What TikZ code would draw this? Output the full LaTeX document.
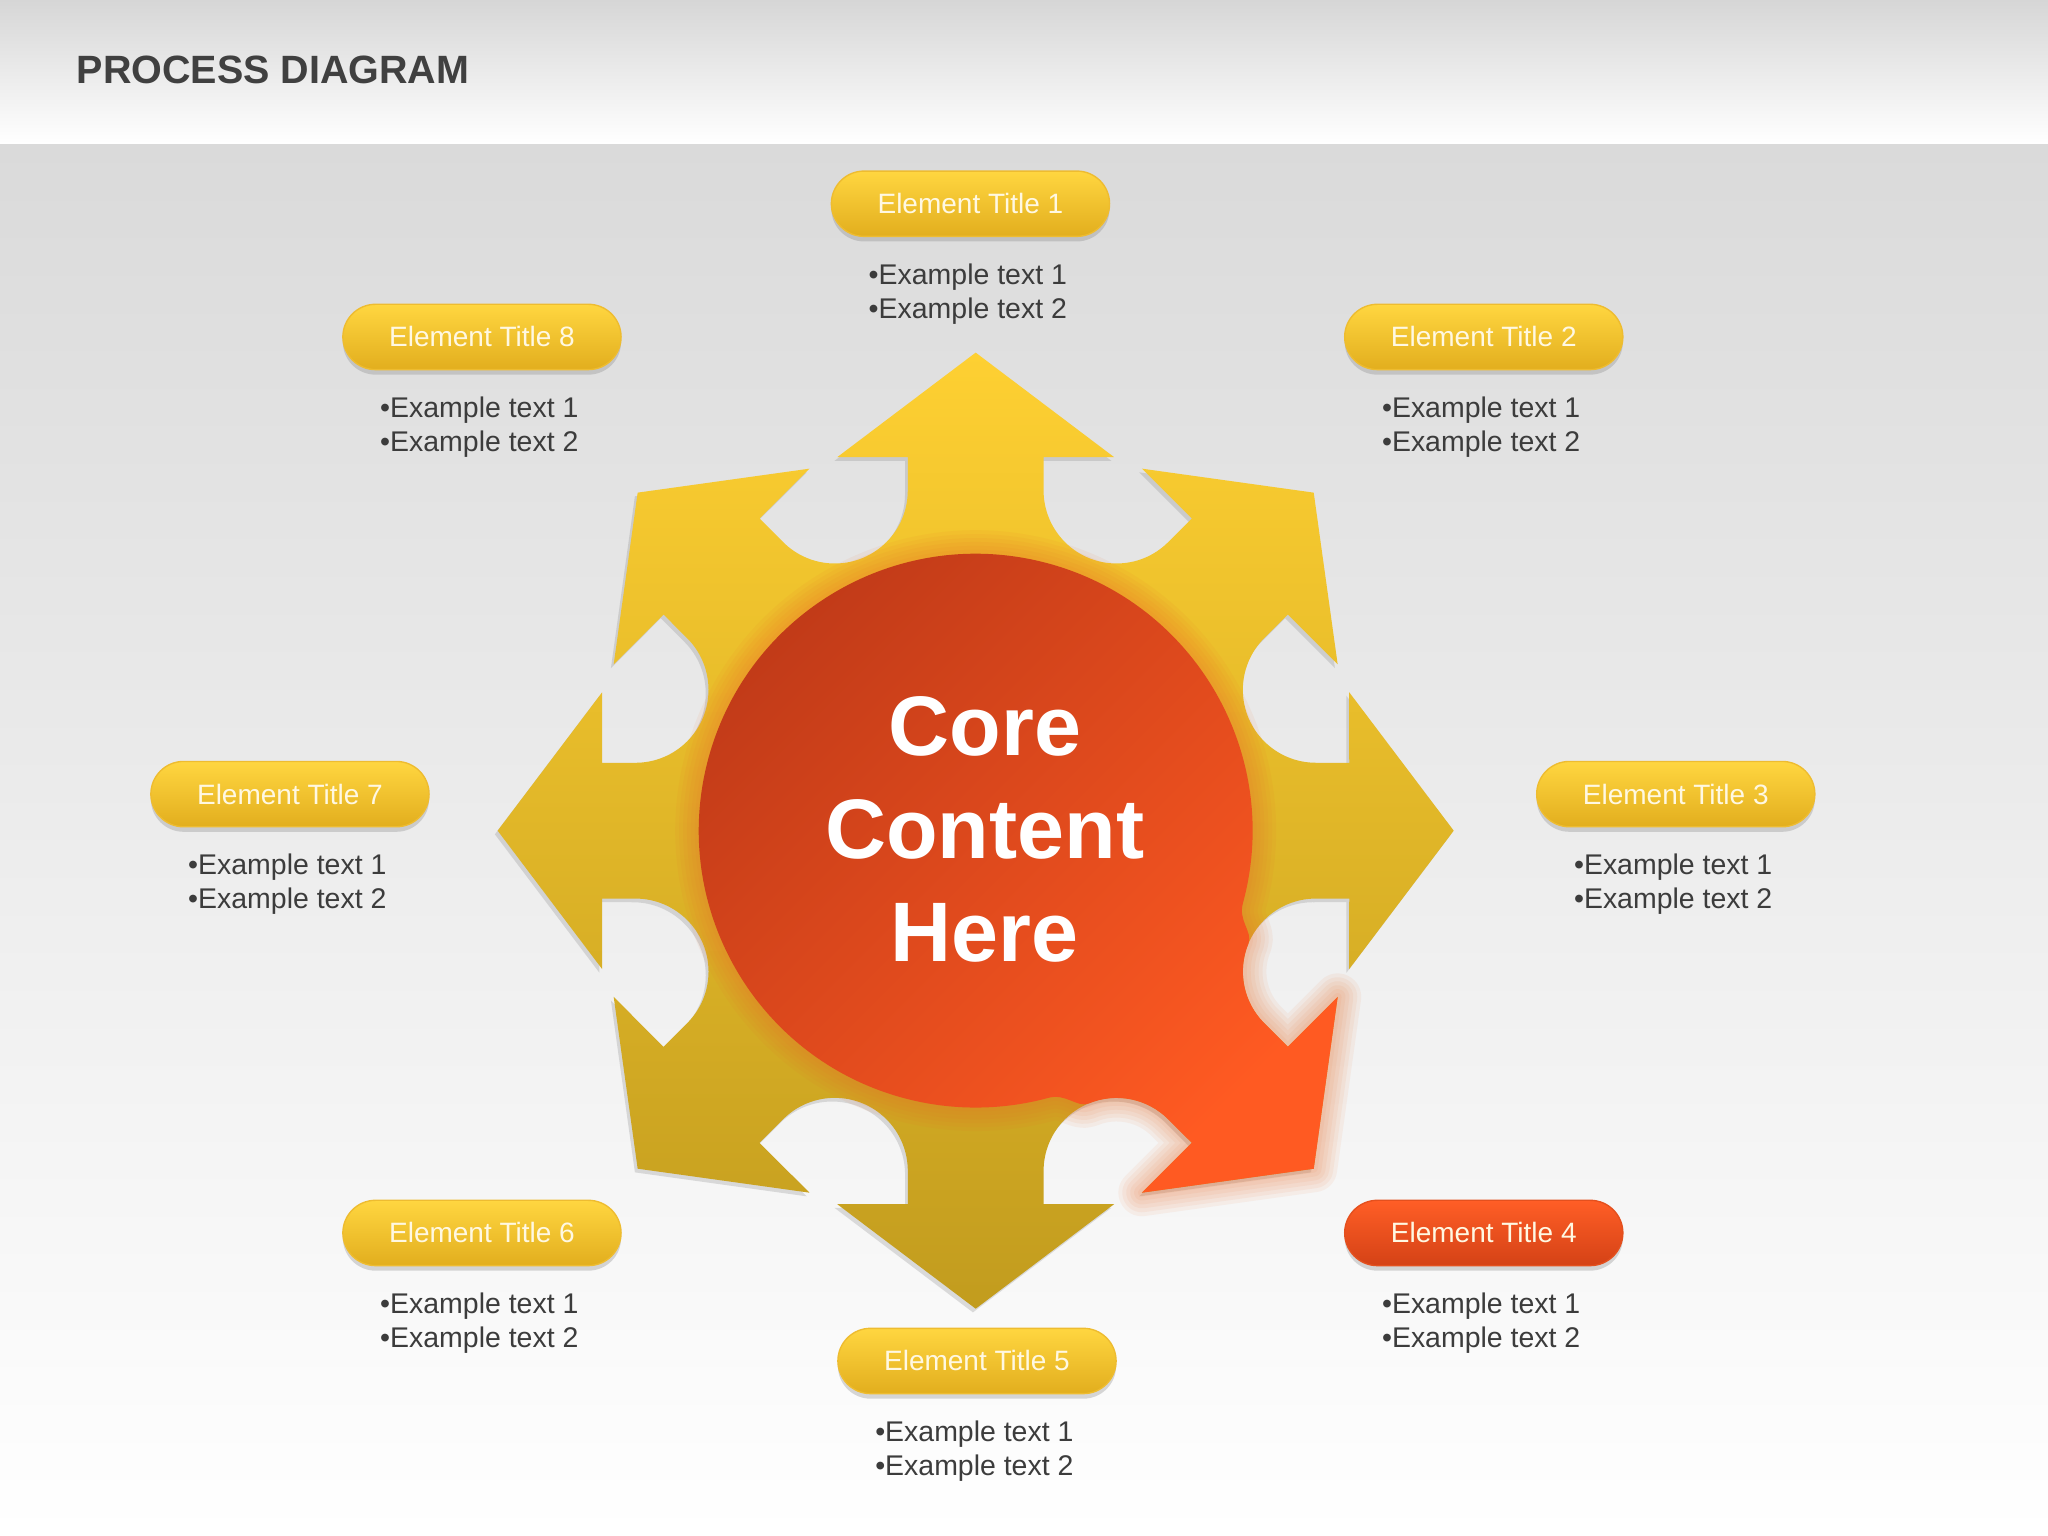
\documentclass[tikz,border=0pt]{standalone}
\usepackage{fontspec}
\setmainfont{Liberation Sans}
\usepackage{tikz}
\usetikzlibrary{shadows}
\definecolor{bgtop}{RGB}{218,218,218}
\definecolor{bandtop}{RGB}{214,214,214}
\definecolor{headc}{RGB}{64,64,64}
\definecolor{txtc}{RGB}{60,60,60}
\definecolor{starA}{RGB}{254,208,50}
\definecolor{starB}{RGB}{194,156,30}
\definecolor{coreA}{RGB}{192,58,24}
\definecolor{coreB}{RGB}{255,90,34}
\definecolor{glowc}{RGB}{236,108,40}
\definecolor{pillA}{RGB}{255,214,64}
\definecolor{pillB}{RGB}{226,174,30}
\definecolor{pillE}{RGB}{238,188,48}
\definecolor{pillrA}{RGB}{255,94,38}
\definecolor{pillrB}{RGB}{212,66,22}
\definecolor{pillrE}{RGB}{228,80,30}
\definecolor{pilltxt}{RGB}{255,248,226}
\tikzset{
  pill/.style ={rounded corners=0.25cm, minimum width=2.13cm, minimum height=0.50cm,
                top color=pillA, bottom color=pillB, draw=pillE, line width=0.3pt,
                text=pilltxt, font=\fontsize{6.1}{7}\selectfont,
                drop shadow={shadow xshift=0pt, shadow yshift=-1.1pt, opacity=0.3}},
  pillr/.style={pill, top color=pillrA, bottom color=pillrB, draw=pillrE},
  txt/.style  ={align=left, text=txtc, inner sep=0pt, font=\fontsize{6.2}{7.4}\selectfont},
  core/.style ={align=center, text=white, inner sep=0pt, font=\fontsize{18.4}{22.5}\selectfont\bfseries},
  head/.style ={text=headc, inner sep=0pt, font=\fontsize{8.6}{10}\selectfont\bfseries},
  glow/.style ={draw=glowc, line join=round, opacity=0.07},
}

\begin{document}
\begin{tikzpicture}
  \useasboundingbox (0,0) rectangle (15.68,11.76);
  \shade[top color=bgtop, bottom color=white] (0,0) rectangle (15.68,10.66);
  \shade[top color=bandtop, bottom color=white] (0,10.66) rectangle (15.68,11.76);
  \node[head, anchor=base west] (title) at (0.58,11.12) {PROCESS DIAGRAM};
  \begin{scope}[shift={(7.47,5.40)}]
    \shade[top color=starA, bottom color=starB,
           drop shadow={shadow xshift=-0.6pt, shadow yshift=-0.8pt, opacity=0.25}]
      (-11.29:2.656) -- (-10.30:2.907) -- (-20.33:3.050) -- (0:3.66) -- (20.33:3.050) -- (10.30:2.907) -- (11.29:2.656)
      arc[start angle=270, end angle=135, radius=0.559]
      -- (34.70:2.907) -- (24.67:3.050) -- (45:3.66) -- (65.33:3.050) -- (55.30:2.907) -- (56.29:2.656)
      arc[start angle=315, end angle=180, radius=0.559]
      -- (79.70:2.907) -- (69.67:3.050) -- (90:3.66) -- (110.33:3.050) -- (100.30:2.907) -- (101.29:2.656)
      arc[start angle=360, end angle=225, radius=0.559]
      -- (124.70:2.907) -- (114.67:3.050) -- (135:3.66) -- (155.33:3.050) -- (145.30:2.907) -- (146.29:2.656)
      arc[start angle=405, end angle=270, radius=0.559]
      -- (169.70:2.907) -- (159.67:3.050) -- (180:3.66) -- (200.33:3.050) -- (190.30:2.907) -- (191.29:2.656)
      arc[start angle=450, end angle=315, radius=0.559]
      -- (214.70:2.907) -- (204.67:3.050) -- (225:3.66) -- (245.33:3.050) -- (235.30:2.907) -- (236.29:2.656)
      arc[start angle=495, end angle=360, radius=0.559]
      -- (259.70:2.907) -- (249.67:3.050) -- (270:3.66) -- (290.33:3.050) -- (280.30:2.907) -- (281.29:2.656)
      arc[start angle=540, end angle=405, radius=0.559]
      -- (304.70:2.907) -- (294.67:3.050) -- (315:3.66) -- (335.33:3.050) -- (325.30:2.907) -- (326.29:2.656)
      arc[start angle=585, end angle=450, radius=0.559]
      -- cycle;
    \shade[top color=coreA, bottom color=coreB, shading angle=45,
           preaction={glow, line width=0.36cm},
           preaction={glow, line width=0.30cm},
           preaction={glow, line width=0.24cm},
           preaction={glow, line width=0.18cm},
           preaction={glow, line width=0.12cm},
           preaction={glow, line width=0.06cm}]
      (285:2.12) .. controls (289:2.12) and (290:2.26) .. (292.5:2.261)
      arc[start angle=112.5, end angle=45, radius=0.559]
      -- (304.70:2.907) -- (294.67:3.050) -- (315:3.66) -- (335.33:3.050) -- (325.30:2.907) -- (326.29:2.656)
      arc[start angle=225, end angle=157.5, radius=0.559]
      .. controls (340:2.26) and (341:2.12) .. (345:2.12)
      arc[start angle=345, end angle=645, radius=2.12]
      -- cycle;
  \end{scope}
  \node[core] (core) at (7.54,5.41) {Core\\Content\\Here};
  \node[pill]  (t1) at (7.43,10.20) {Element Title 1};
  \node[pill]  (t2) at (11.36,9.18) {Element Title 2};
  \node[pill]  (t3) at (12.83,5.68) {Element Title 3};
  \node[pillr] (t4) at (11.36,2.32) {Element Title 4};
  \node[pill]  (t5) at (7.48,1.34)  {Element Title 5};
  \node[pill]  (t6) at (3.69,2.32)  {Element Title 6};
  \node[pill]  (t7) at (2.22,5.68)  {Element Title 7};
  \node[pill]  (t8) at (3.69,9.18)  {Element Title 8};
  \node[txt] (x1) at (7.41,9.51)  {•Example text 1\\•Example text 2};
  \node[txt] (x2) at (11.34,8.49) {•Example text 1\\•Example text 2};
  \node[txt] (x3) at (12.81,4.99) {•Example text 1\\•Example text 2};
  \node[txt] (x4) at (11.34,1.63) {•Example text 1\\•Example text 2};
  \node[txt] (x5) at (7.46,0.65)  {•Example text 1\\•Example text 2};
  \node[txt] (x6) at (3.67,1.63)  {•Example text 1\\•Example text 2};
  \node[txt] (x7) at (2.20,4.99)  {•Example text 1\\•Example text 2};
  \node[txt] (x8) at (3.67,8.49)  {•Example text 1\\•Example text 2};
\end{tikzpicture}
\end{document}
